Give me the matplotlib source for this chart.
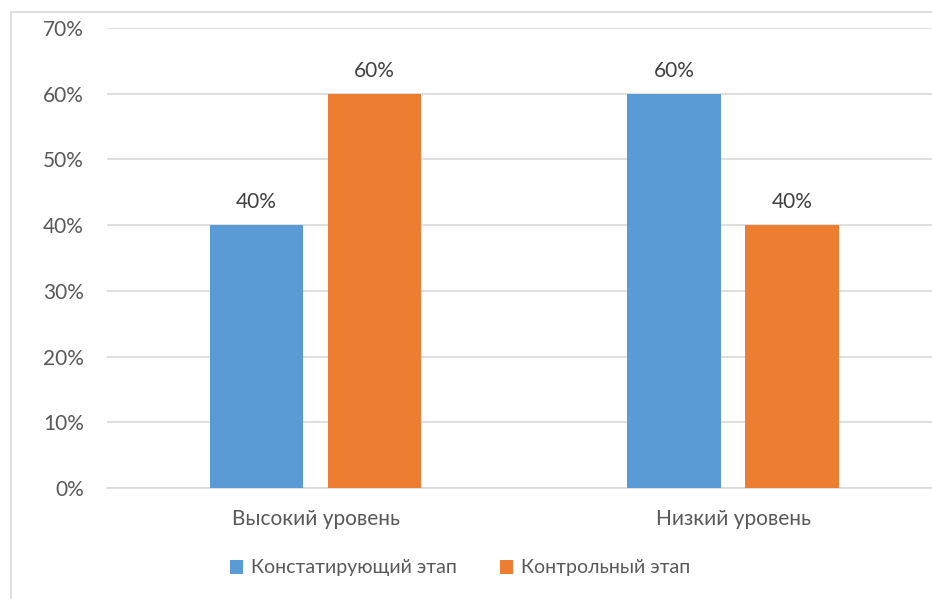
import numpy as np
import matplotlib.pyplot as plt
from matplotlib.patches import Rectangle

categories = ["Высокий уровень", "Низкий уровень"]
series_names = ["Констатирующий этап", "Контрольный этап"]
stage1 = [0.40, 0.60]
stage2 = [0.60, 0.40]
colors = ["#5B9BD5", "#ED7D31"]
yticks = [0.0, 0.1, 0.2, 0.3, 0.4, 0.5, 0.6, 0.7]

plt.rcParams["font.family"] = ["Lato", "DejaVu Sans"]
text_color = "#595959"

fig = plt.figure(figsize=(9.32, 5.99), dpi=100)
# light chart-area border, running off the right and bottom edges
fig.patches.append(Rectangle((10.5 / 932, -0.05), 1.0, 1 - 11.5 / 599 + 0.05,
                             transform=fig.transFigure, fill=False,
                             edgecolor="#D9D9D9", linewidth=1.2))

ax = fig.add_axes([106.75 / 932, 1 - 488 / 599, 835 / 932, 460 / 599])

x = np.arange(len(categories))
w = 0.223
off = 0.1413
b1 = ax.bar(x - off, stage1, w, color=colors[0], label=series_names[0], zorder=3)
b2 = ax.bar(x + off, stage2, w, color=colors[1], label=series_names[1], zorder=3)

for bars in (b1, b2):
    for r in bars:
        ax.text(r.get_x() + r.get_width() / 2, r.get_height() + 0.02,
                f"{r.get_height():.0%}", ha="center", va="bottom",
                fontsize=15, color="#404040")

ax.set_xlim(-0.5, 1.5)
ax.set_ylim(0, 0.7)
ax.set_yticks(yticks)
ax.set_yticklabels([f"{t:.0%}" for t in yticks])
ax.set_xticks(x)
ax.set_xticklabels(categories)
ax.grid(axis="y", color="#D9D9D9", linewidth=1.2, zorder=0)
for s in ["top", "right", "left"]:
    ax.spines[s].set_visible(False)
ax.spines["bottom"].set_color("#D9D9D9")
ax.spines["bottom"].set_linewidth(1.2)
ax.tick_params(axis="both", length=0, labelsize=15, colors=text_color)
ax.tick_params(axis="y", pad=16.5)
ax.tick_params(axis="x", pad=15)

leg = fig.legend(loc="center", bbox_to_anchor=(460 / 932, 1 - 568 / 599),
                 ncol=2, frameon=False, fontsize=14, handlelength=0.7,
                 handleheight=0.7, handletextpad=0.4, columnspacing=2.2)
for t in leg.get_texts():
    t.set_color(text_color)

fig.savefig("out.png", dpi=100)
